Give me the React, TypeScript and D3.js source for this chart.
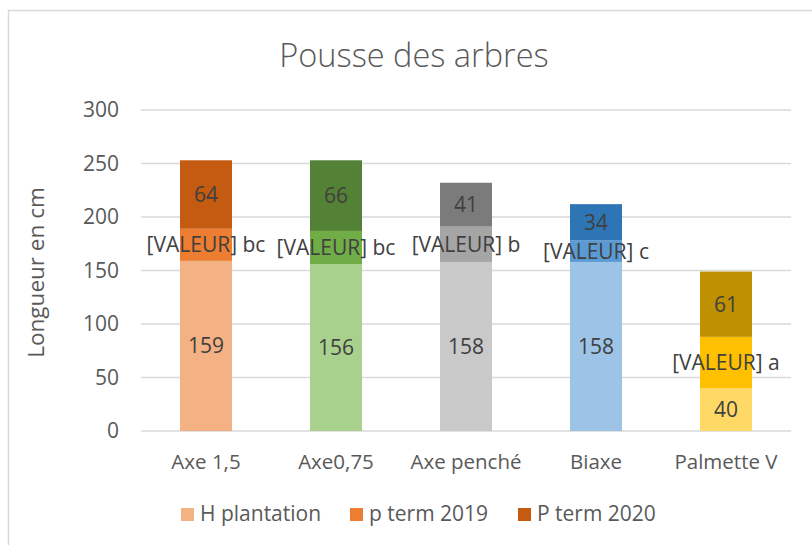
import React from "react";
import * as d3 from "d3";

// chart values
const categories = ["Axe 1,5", "Axe0,75", "Axe penché", "Biaxe", "Palmette V"];
const seriesNames = ["H plantation", "p term 2019", "P term 2020"];
const hPlantation = [159, 156, 158, 158, 40];
const pTerm2019 = [30, 31, 33, 20, 48];
const pTerm2020 = [64, 66, 41, 34, 61];
const midLabels = ["[VALEUR] bc", "[VALEUR] bc", "[VALEUR] b", "[VALEUR] c", "[VALEUR] a"];
const yTicks = [0, 50, 100, 150, 200, 250, 300];

// one light/mid/dark palette per bar
const palettes = [
  ["#F4B183", "#ED7D31", "#C55A11"],
  ["#A9D18E", "#70AD47", "#538135"],
  ["#C9C9C9", "#A5A5A5", "#7B7B7B"],
  ["#9DC3E6", "#5B9BD5", "#2E75B6"],
  ["#FFD966", "#FFC000", "#BF9000"],
];

const W = 812;
const H = 545;
const font = "'Open Sans', Lato, sans-serif";

export default function App() {
  const rows = categories.map((c, i) => ({
    cat: c,
    s0: hPlantation[i],
    s1: pTerm2019[i],
    s2: pTerm2020[i],
  }));
  const stacked = d3.stack<any>().keys(["s0", "s1", "s2"])(rows);

  const x = d3
    .scaleBand()
    .domain(categories)
    .range([141, 791])
    .paddingInner(0.6)
    .paddingOuter(0.3);
  const y = d3.scaleLinear().domain([0, 300]).range([431, 110]);

  const labelFor = (k: number, i: number) =>
    k === 1 ? midLabels[i] : String(k === 0 ? hPlantation[i] : pTerm2020[i]);

  return (
    <svg
      width={W}
      height={H}
      style={{ position: "absolute", left: 0, top: 0, background: "#fff" }}
      fontFamily={font}
    >
      <rect x={8.5} y={10.5} width={900} height={700} fill="#fff" stroke="#D9D9D9" strokeWidth={1.5} />

      <text x={414} y={67} textAnchor="middle" fontSize={32.5} fill="#595959" fontWeight={300}>
        Pousse des arbres
      </text>

      {/* grid + y ticks */}
      {yTicks.map((t) => (
        <g key={t}>
          <line x1={141} x2={791} y1={y(t)} y2={y(t)} stroke="#D9D9D9" strokeWidth={1.5} />
          <text x={119} y={y(t)} dy="0.35em" textAnchor="end" fontSize={21} fill="#595959">
            {t}
          </text>
        </g>
      ))}

      <text
        transform={`translate(36,${y(150) + 2}) rotate(-90)`}
        textAnchor="middle"
        dy="0.35em"
        fontSize={22.5}
        fill="#595959"
      >
        Longueur en cm
      </text>

      {/* stacked bars */}
      {stacked.map((layer, k) => (
        <g key={k}>
          {layer.map((d, i) => (
            <rect
              key={i}
              x={x(categories[i])}
              y={y(d[1])}
              width={x.bandwidth()}
              height={y(d[0]) - y(d[1])}
              fill={palettes[i][k]}
            />
          ))}
        </g>
      ))}

      {/* data labels */}
      {stacked.map((layer, k) => (
        <g key={"l" + k}>
          {layer.map((d, i) => (
            <text
              key={i}
              x={(x(categories[i]) as number) + x.bandwidth() / 2}
              y={y((d[0] + d[1]) / 2)}
              dy="0.35em"
              textAnchor="middle"
              fontSize={21}
              fill="#404040"
            >
              {labelFor(k, i)}
            </text>
          ))}
        </g>
      ))}

      {/* category axis */}
      {categories.map((c) => (
        <text
          key={c}
          x={(x(c) as number) + x.bandwidth() / 2}
          y={469}
          textAnchor="middle"
          fontSize={20.5}
          fill="#595959"
        >
          {c}
        </text>
      ))}

      {/* legend */}
      {seriesNames.map((s, k) => {
        const lx = [181, 350, 518][k];
        return (
          <g key={s}>
            <rect x={lx} y={508} width={13} height={13} fill={palettes[0][k]} />
            <text x={lx + 19} y={521} fontSize={21} fill="#595959">
              {s}
            </text>
          </g>
        );
      })}
    </svg>
  );
}
